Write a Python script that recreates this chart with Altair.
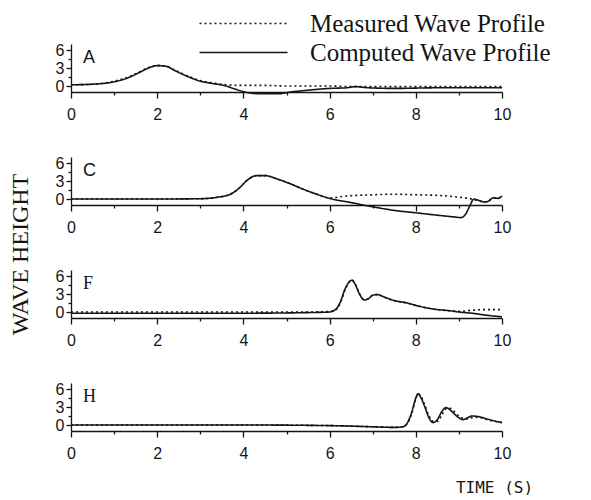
import altair as alt
import pandas as pd

SERIES = ["Measured Wave Profile", "Computed Wave Profile"]

# ---- Panel A ----
a_meas_t = [0, 0.5, 1.0, 1.3, 1.6, 1.8, 2.0, 2.2, 2.4, 2.7, 3.0, 3.3, 3.6, 4.0, 4.5, 5.0, 5.5, 6.0, 6.5, 6.8, 7.5, 8.5, 10]
a_meas_h = [0.2, 0.3, 0.8, 1.4, 2.4, 3.1, 3.4, 3.3, 2.7, 1.7, 0.9, 0.5, 0.2, 0.1, 0.1, 0.0, 0.0, 0.0, -0.1, -0.1, -0.1, -0.1, -0.1]
a_comp_t = [0, 0.5, 1.0, 1.3, 1.6, 1.8, 2.0, 2.2, 2.4, 2.7, 3.0, 3.3, 3.6, 3.8, 4.1, 4.4, 4.8, 5.1, 5.5, 6.0, 6.4, 6.6, 6.9, 7.5, 8.5, 10]
a_comp_h = [0.2, 0.3, 0.7, 1.3, 2.3, 3.0, 3.4, 3.3, 2.6, 1.6, 0.8, 0.4, 0.0, -0.5, -1.1, -1.3, -1.3, -1.0, -0.7, -0.4, -0.3, -0.1, -0.3, -0.4, -0.3, -0.3]

# ---- Panel C ----
c_meas_t = [0, 1, 2, 3, 3.4, 3.7, 3.9, 4.1, 4.3, 4.5, 4.8, 5.1, 5.4, 5.7, 6.0, 6.4, 7.0, 7.5, 8.0, 8.5, 9.0, 9.3, 9.45, 9.6, 9.7, 9.8, 9.9, 10]
c_meas_h = [0.0, 0.0, 0.0, 0.05, 0.3, 0.8, 1.8, 3.2, 3.9, 3.9, 3.3, 2.5, 1.6, 0.8, 0.2, 0.5, 0.7, 0.8, 0.7, 0.6, 0.3, 0.0, -0.3, -0.5, -0.2, 0.2, 0.1, 0.5]
c_comp_t = [0, 1, 2, 3, 3.4, 3.7, 3.9, 4.1, 4.3, 4.5, 4.8, 5.1, 5.4, 5.7, 6.0, 6.5, 7.0, 7.5, 8.0, 8.5, 8.9, 9.05, 9.15, 9.25, 9.35, 9.45, 9.6, 9.7, 9.8, 9.9, 10]
c_comp_h = [0.0, 0.0, 0.0, 0.05, 0.3, 0.8, 1.8, 3.2, 3.9, 3.9, 3.3, 2.5, 1.6, 0.8, 0.1, -0.6, -1.3, -1.9, -2.3, -2.7, -3.0, -3.1, -2.6, -1.2, 0.0, -0.2, -0.5, -0.3, 0.2, 0.1, 0.5]

# ---- Panel F ----
f_meas_t = [0, 2, 4, 5.5, 6.0, 6.15, 6.25, 6.35, 6.45, 6.52, 6.6, 6.7, 6.8, 6.9, 7.0, 7.1, 7.3, 7.5, 7.8, 8.0, 8.4, 8.8, 9.0, 9.3, 9.6, 10]
f_meas_h = [0.0, 0.0, 0.0, 0.0, 0.1, 0.4, 1.5, 3.5, 4.9, 5.3, 4.6, 3.0, 2.1, 2.2, 2.8, 2.9, 2.4, 1.9, 1.5, 1.1, 0.5, 0.2, 0.1, 0.3, 0.4, 0.4]
f_comp_t = [0, 2, 4, 5.5, 6.0, 6.15, 6.25, 6.35, 6.45, 6.52, 6.6, 6.7, 6.8, 6.9, 7.0, 7.1, 7.3, 7.5, 7.8, 8.0, 8.4, 8.8, 9.0, 9.3, 9.6, 10]
f_comp_h = [-0.2, -0.2, -0.2, -0.1, 0.0, 0.5, 1.7, 3.7, 5.0, 5.3, 4.5, 2.9, 2.0, 2.2, 2.8, 2.9, 2.4, 1.9, 1.5, 1.1, 0.5, 0.2, 0.0, -0.2, -0.5, -0.8]

# ---- Panel H ----
h_meas_t = [0, 2, 4, 6, 7, 7.5, 7.7, 7.8, 7.9, 8.0, 8.05, 8.1, 8.2, 8.3, 8.4, 8.5, 8.6, 8.7, 8.8, 8.9, 9.0, 9.1, 9.2, 9.35, 9.5, 9.7, 10]
h_meas_h = [0.0, 0.0, 0.0, -0.1, -0.3, -0.4, -0.3, 0.2, 1.8, 4.3, 5.2, 5.0, 3.5, 1.6, 0.6, 0.6, 1.6, 2.7, 2.8, 2.2, 1.5, 1.1, 1.0, 1.3, 1.2, 0.8, 0.4]
h_comp_t = [0, 2, 4, 6, 7, 7.5, 7.7, 7.8, 7.9, 8.0, 8.05, 8.1, 8.2, 8.3, 8.4, 8.5, 8.6, 8.7, 8.8, 8.9, 9.0, 9.1, 9.2, 9.3, 9.45, 9.7, 10]
h_comp_h = [0.0, 0.0, 0.0, -0.1, -0.3, -0.4, -0.3, 0.3, 2.0, 4.5, 5.2, 4.8, 3.2, 1.3, 0.4, 0.9, 2.2, 2.9, 2.5, 1.8, 1.2, 0.9, 1.2, 1.5, 1.4, 0.9, 0.4]

PANELS = [
    ("A", a_meas_t, a_meas_h, a_comp_t, a_comp_h, "Liberation Sans"),
    ("C", c_meas_t, c_meas_h, c_comp_t, c_comp_h, "Liberation Sans"),
    ("F", f_meas_t, f_meas_h, f_comp_t, f_comp_h, "Liberation Serif"),
    ("H", h_meas_t, h_meas_h, h_comp_t, h_comp_h, "Liberation Serif"),
]

INK = "#151515"
W, H = 431, 48
TICK_FONT = "Liberation Sans Narrow, Liberation Sans, Arial"


def make_df(mt, mh, ct, ch):
    rows = [{"t": t, "h": h, "series": SERIES[0]} for t, h in zip(mt, mh)]
    rows += [{"t": t, "h": h, "series": SERIES[1]} for t, h in zip(ct, ch)]
    return pd.DataFrame(rows)


def panel(idx, name, mt, mh, ct, ch, letter_font):
    df = make_df(mt, mh, ct, ch)
    last = idx == len(PANELS) - 1
    x_axis_kw = dict(
        values=list(range(0, 11)),
        labelExpr="datum.value % 2 === 0 ? datum.label : ''",
        tickSize={"condition": {"test": "datum.value % 2 === 0", "value": 6}, "value": 3},
        labelPadding=8,
        labelFlush=False,
    )
    if last:
        x_axis_kw.update(
            title="TIME (S)", titleFont="DejaVu Sans Mono", titleFontSize=16,
            titleFontWeight="normal", titleX=423, titleY=56, titleAlign="center",
            titleBaseline="middle", titleColor=INK,
        )
    else:
        x_axis_kw.update(title=None)
    y_axis_kw = dict(
        values=[0, 1.5, 3, 4.5, 6],
        labelExpr="datum.value % 3 === 0 ? datum.label : ''",
        tickSize={"condition": {"test": "datum.value % 3 === 0", "value": 5}, "value": 3},
        labelPadding=2,
        labelBaseline="middle",
    )
    if name == "C":
        y_axis_kw.update(
            title="WAVE HEIGHT", titleFont="Liberation Serif", titleFontSize=24,
            titleFontWeight="normal", titleX=-51, titleY=97, titleAngle=270,
            titleAlign="center", titleBaseline="middle", titleColor=INK,
        )
    else:
        y_axis_kw.update(title=None)

    if idx == 0:
        legend = alt.Legend(
            title=None, orient="none", legendX=160, legendY=-33,
            symbolType="M-8.8,0H8.8", symbolSize=100, symbolStrokeWidth=1.5,
            symbolStrokeColor=INK, labelFont="Liberation Serif", labelFontSize=25,
            labelColor=INK, labelOffset=54, rowPadding=3, labelLimit=400, padding=0,
        )
    else:
        legend = None

    lines = alt.Chart(df).mark_line(interpolate="monotone", color=INK).encode(
        x=alt.X("t:Q", scale=alt.Scale(domain=[0, 10], nice=False, zero=False),
                axis=alt.Axis(**x_axis_kw)),
        y=alt.Y("h:Q", scale=alt.Scale(domain=[-1, 7], nice=False, zero=False),
                axis=alt.Axis(**y_axis_kw)),
        strokeDash=alt.StrokeDash("series:N",
                                  scale=alt.Scale(domain=SERIES, range=[[2, 3], [1, 0]]),
                                  legend=legend),
        strokeWidth=alt.StrokeWidth("series:N",
                                    scale=alt.Scale(domain=SERIES, range=[1.6, 1.6]),
                                    legend=None),
        detail="series:N",
    )
    letter = alt.Chart(pd.DataFrame({"label": [name]})).mark_text(
        font=letter_font, fontSize=18, align="left", baseline="middle", color=INK
    ).encode(text="label:N", x=alt.value(12), y=alt.value(14))
    return alt.layer(lines, letter).properties(width=W, height=H)


charts = [panel(i, *p) for i, p in enumerate(PANELS)]

chart = alt.vconcat(*charts, spacing=65, bounds="flush").resolve_scale(
    strokeDash="independent", strokeWidth="independent"
).resolve_legend(strokeDash="independent", strokeWidth="independent").properties(
    padding={"top": 3, "left": 0, "right": 0, "bottom": 0}
).configure_view(stroke=None).configure_axis(
    grid=False, domainColor=INK, tickColor=INK, labelColor=INK,
    labelFont=TICK_FONT, labelFontSize=16, domainWidth=1.3, tickWidth=1.3,
)

chart.save("out.html", embed_options={"renderer": "svg", "actions": False})
